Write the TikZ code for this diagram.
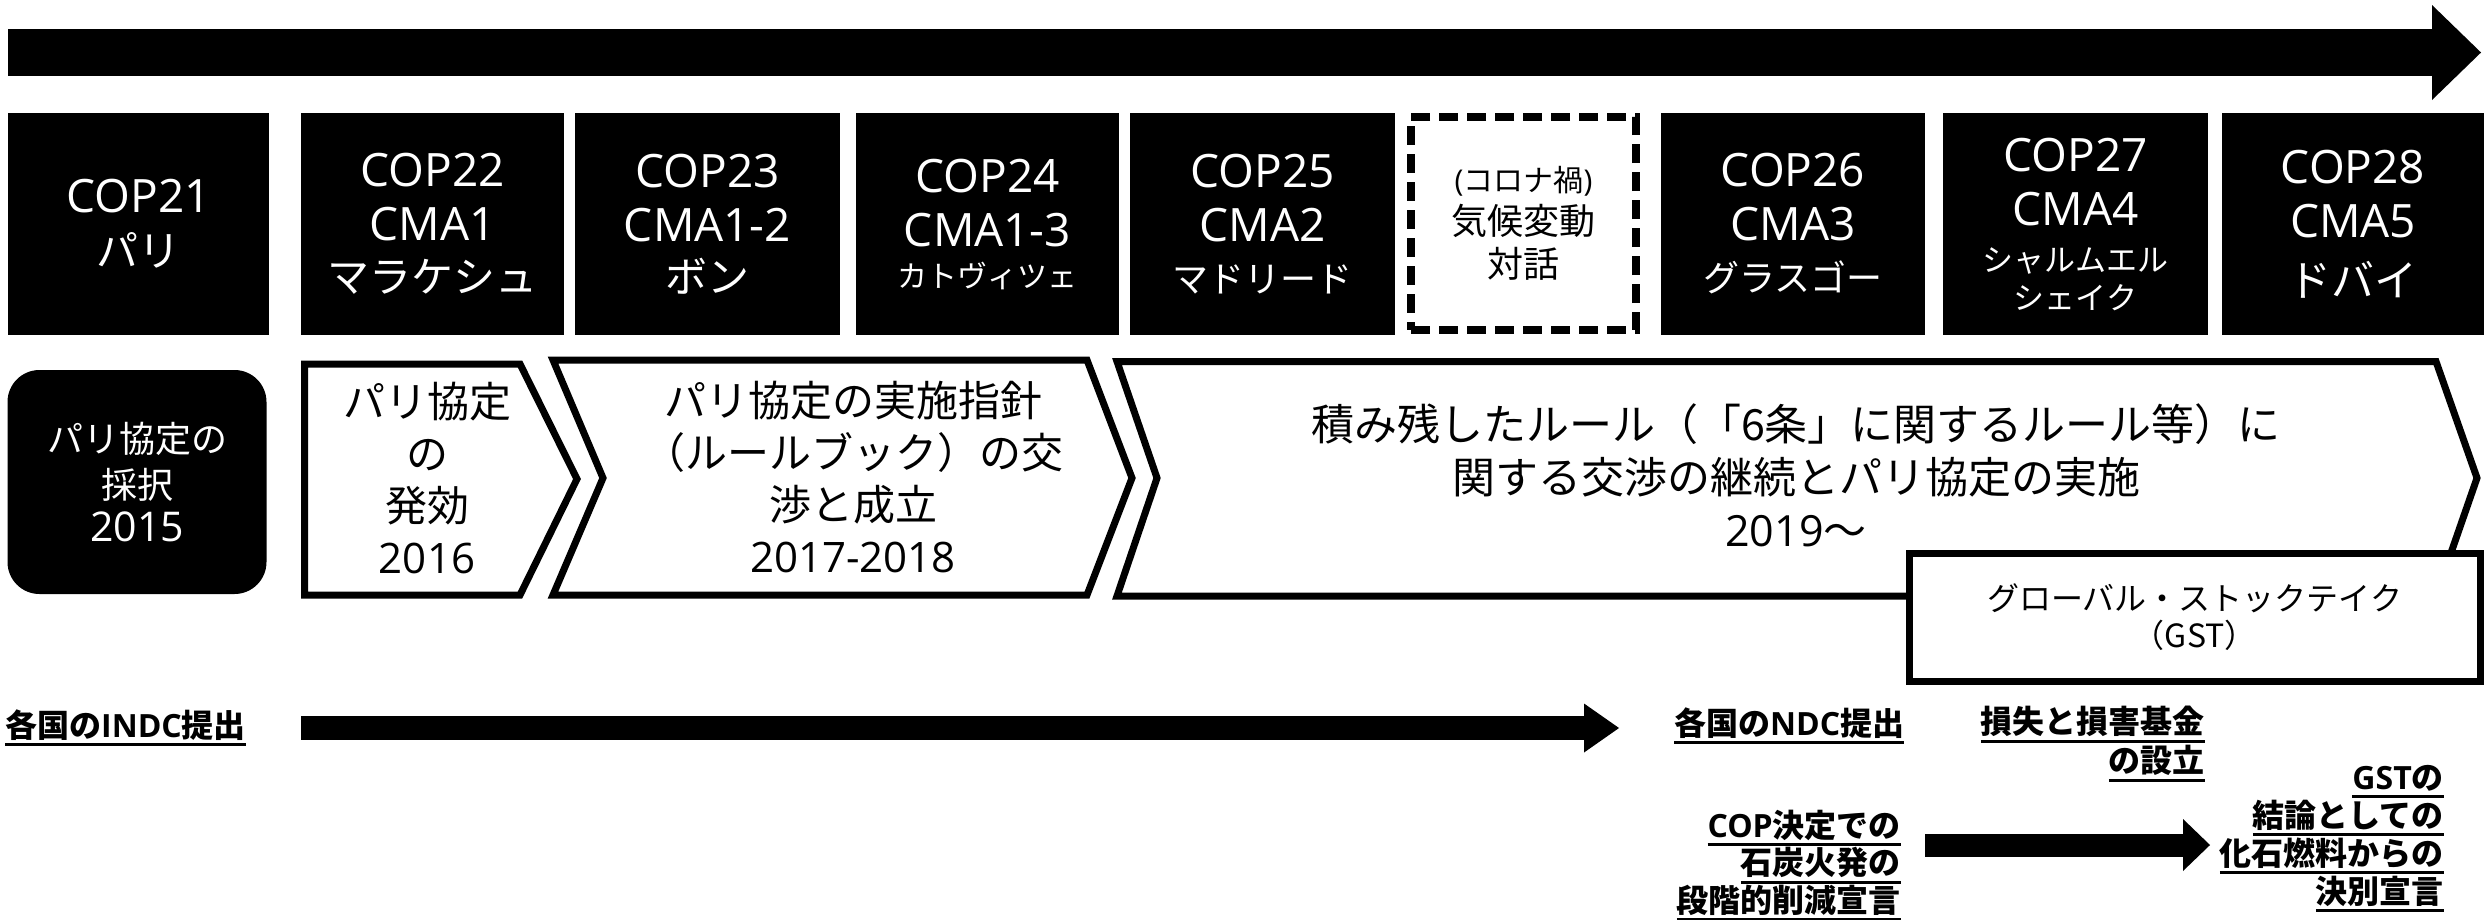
\documentclass[tikz,border=0pt]{standalone}
\usepackage{fontspec}
\setmainfont{Open Sans}
\newfontfamily\jp{Noto Sans CJK JP}
\usetikzlibrary{arrows.meta}
\newcommand\fsz[2]{\fontsize{#1}{#2}\selectfont}
\newcommand\myul[1]{\setbox0\hbox{#1}\rlap{\rule[-9pt]{\wd0}{3pt}}\box0}
\begin{document}
\begin{tikzpicture}[x=1pt,y=-1pt,
  copbox/.style={fill=black,text=white,inner sep=0pt,minimum height=222pt,align=center,font=\fsz{46}{54}},
  chevshape/.style={draw=black,fill=white,line width=7pt,miter limit=20},
  chevtext/.style={align=center,inner sep=0pt,font=\fsz{42}{52}},
  lab/.style={inner sep=0pt,font=\bfseries\fsz{32}{37}}
]
\useasboundingbox (0,0) rectangle (2484,919);

% top timeline arrow
\coordinate (tl) at (8,52.5);
\coordinate (tr) at (2481,52.5);
\draw[line width=47pt,-{Triangle[length=49pt,width=95pt,line width=0pt]}] (tl) -- (tr);

% COP boxes
\node[copbox,minimum width=261pt] (b21) at (138.5,224) {COP21\\{\jp\fsz{42}{54}パリ}};
\node[copbox,minimum width=263pt] (b22) at (432.5,224) {COP22\\CMA1\\[-2pt]{\jp\fsz{42}{54}マラケシュ}};
\node[copbox,minimum width=265pt] (b23) at (707.5,224) {COP23\\CMA1-2\\[-3pt]{\jp\fsz{42}{54}ボン}};
\node[copbox,minimum width=263pt] (b24) at (987.5,224) {COP24\\CMA1-3\\[-13pt]{\jp\fsz{30}{54}カトヴィツェ}};
\node[copbox,minimum width=265pt] (b25) at (1262.5,224) {COP25\\CMA2\\[-3pt]{\jp\fsz{36}{54}マドリード}};
\node[draw=black,line width=8pt,dash pattern=on 19pt off 9pt,fill=white,inner sep=0pt,
      minimum width=225pt,minimum height=213pt,align=center,font=\fsz{36}{43}] (dlg) at (1523.5,223.5)
      {{\fsz{30}{43}({\jp コロナ禍})}\\{\jp 気候変動}\\{\jp 対話}};
\node[copbox,minimum width=264pt] (b26) at (1793,224) {COP26\\CMA3\\[-3pt]{\jp\fsz{36}{54}グラスゴー}};
\node[copbox,minimum width=265pt] (b27) at (2075.5,224) {COP27\\CMA4\\[-8pt]{\jp\fsz{31}{54}シャルムエル}\\[-16pt]{\jp\fsz{31}{54}シェイク}};
\node[copbox,minimum width=262pt] (b28) at (2353,224) {COP28\\CMA5\\[5pt]{\jp\fsz{43}{54}ドバイ}};

% second row
\node[fill=black,text=white,rounded corners=32pt,inner sep=0pt,minimum width=259pt,minimum height=224pt,
      align=center,font=\fsz{36}{46}] (adopt) at (137,482)
      {{\jp パリ協定の}\\{\jp 採択}\\[-3pt]{\fsz{41}{46}2015}};

\draw[chevshape] (304.5,364) -- (520,364) -- (577,479) -- (520,595) -- (304.5,595) -- cycle;
\node[chevtext] (c1) at (427,478) {{\jp パリ協定}\\{\jp の}\\{\jp 発効}\\2016};

\draw[chevshape] (553,360) -- (1087,360) -- (1132,478) -- (1087,595) -- (553,595) -- (603,478) -- cycle;
\node[chevtext] (c2) at (853,477) {{\jp パリ協定の実施指針}\\{\jp （ルールブック）の交}\\{\jp 渉と成立}\\2017-2018};

\draw[chevshape] (1117,361.5) -- (2436,361.5) -- (2477,478) -- (2436,596) -- (1117,596) -- (1157,478) -- cycle;
\node[chevtext,font=\fsz{43}{53}] (c3) at (1796,475) {{\jp 積み残したルール（「6条」に関するルール等）に}\\{\jp 関する交渉の継続とパリ協定の実施}\\2019{\jp 〜}};

\node[draw=black,fill=white,line width=7pt,inner sep=0pt,minimum width=571.5pt,minimum height=128.5pt,
      align=center,font=\jp\fsz{32}{37}] (gst) at (2194.75,617.25) {グローバル・ストックテイク\\（GST）};

% bottom labels
\node[lab,anchor=west] (indc) at (5,728) {\myul{{\jp 各国の}INDC{\jp 提出}}};
\node[lab,anchor=west] (ndc) at (1674,726) {\myul{{\jp 各国の}NDC{\jp 提出}}};
\node[lab,anchor=east,align=right,font=\bfseries\fsz{32}{39}] (loss) at (2205,744) {\myul{\jp 損失と損害基金}\\\myul{\jp の設立}};
\node[lab,anchor=east,align=right,font=\bfseries\fsz{32}{36}] (coal) at (1901,865.5) {\myul{COP{\jp 決定での}}\\\myul{\jp 石炭火発の}\\\myul{\jp 段階的削減宣言}};
\node[lab,anchor=east,align=right,font=\bfseries\fsz{32}{38}] (fossil) at (2444,838.5) {\myul{GST{\jp の}}\\\myul{\jp 結論としての}\\\myul{\jp 化石燃料からの}\\\myul{\jp 決別宣言}};

% bottom arrows
\coordinate (a1s) at (301,728);
\coordinate (a1e) at (1619,728);
\draw[line width=24pt,-{Triangle[length=35pt,width=49pt,line width=0pt]}] (a1s) -- (a1e);
\coordinate (a2s) at (1925,845);
\coordinate (a2e) at (2210,845);
\draw[line width=23pt,-{Triangle[length=27pt,width=52pt,line width=0pt]}] (a2s) -- (a2e);
\end{tikzpicture}
\end{document}
